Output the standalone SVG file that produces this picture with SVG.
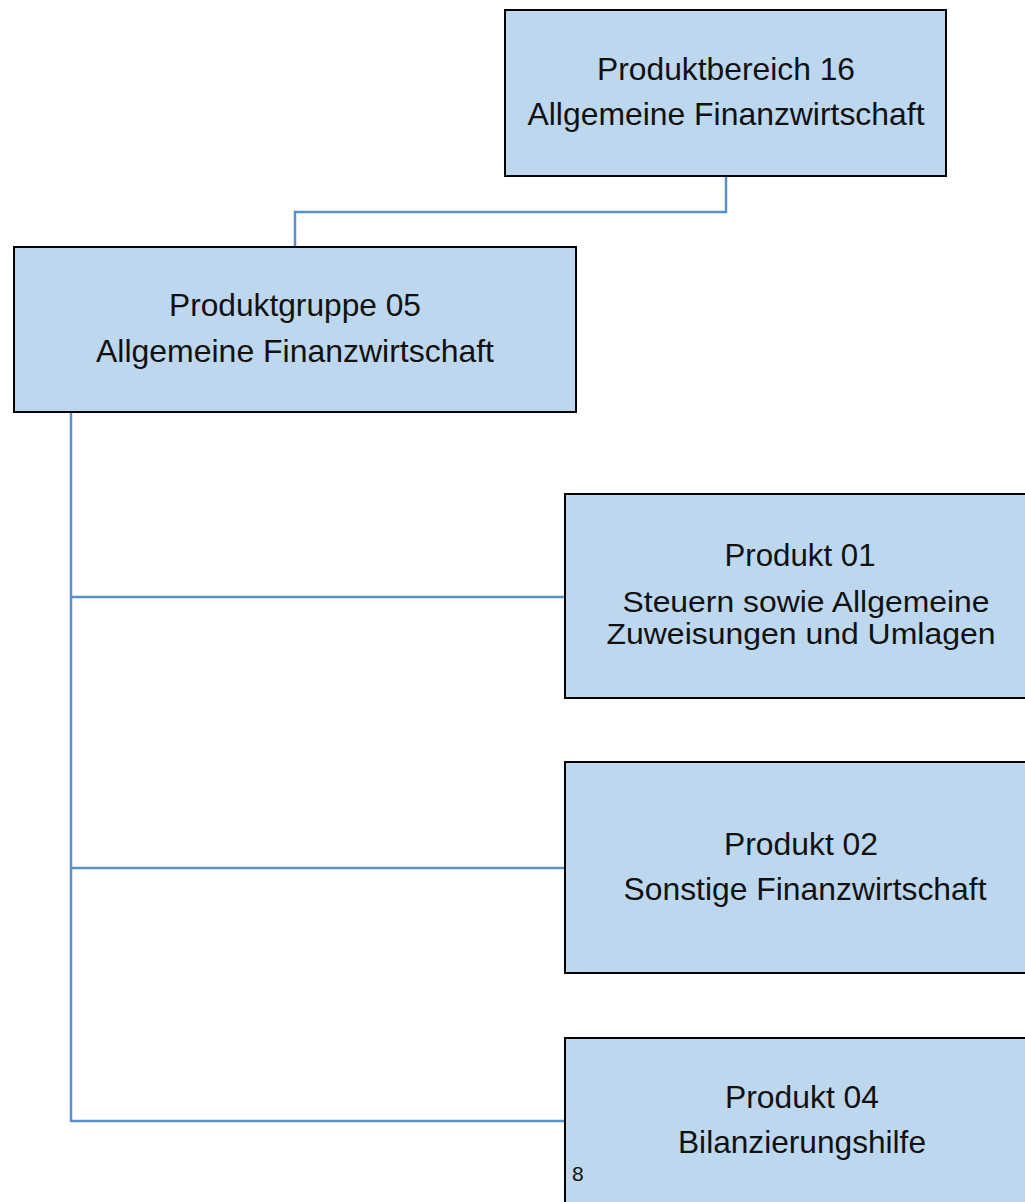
<svg xmlns="http://www.w3.org/2000/svg" width="1025" height="1202" viewBox="0 0 1025 1202">
<style>
.box{fill:#bdd7ee;stroke:#000;stroke-width:2}
.t{font-family:"Liberation Sans",Arial,sans-serif;font-size:32px;fill:#111;text-anchor:middle}
.s{font-size:29px}
.c{fill:none;stroke:#5b8fc7;stroke-width:2.5}
</style>
<rect width="1025" height="1202" fill="#fff"/>
<g id="connectors">
<polyline class="c" points="726,176 726,212 295,212 295,247"/>
<line class="c" x1="71" y1="412" x2="71" y2="1122"/>
<line class="c" x1="71" y1="597" x2="565" y2="597"/>
<line class="c" x1="71" y1="868" x2="565" y2="868"/>
<line class="c" x1="71" y1="1121" x2="565" y2="1121"/>
</g>
<g id="n1">
<rect class="box" x="505" y="10" width="441" height="166"/>
<text class="t" x="726" y="80" textLength="258" lengthAdjust="spacingAndGlyphs">Produktbereich 16</text>
<text class="t" x="726" y="125" textLength="397" lengthAdjust="spacingAndGlyphs">Allgemeine Finanzwirtschaft</text>
</g>
<g id="n2">
<rect class="box" x="14" y="247" width="562" height="165"/>
<text class="t" x="295" y="316" textLength="252" lengthAdjust="spacingAndGlyphs">Produktgruppe 05</text>
<text class="t" x="295" y="362" textLength="398" lengthAdjust="spacingAndGlyphs">Allgemeine Finanzwirtschaft</text>
</g>
<g id="n3">
<rect class="box" x="565" y="494" width="470" height="204"/>
<text class="t" x="800" y="566" textLength="151" lengthAdjust="spacingAndGlyphs">Produkt 01</text>
<text class="t s" x="806" y="612" textLength="367" lengthAdjust="spacingAndGlyphs">Steuern sowie Allgemeine</text>
<text class="t s" x="801" y="644" textLength="389" lengthAdjust="spacingAndGlyphs">Zuweisungen und Umlagen</text>
</g>
<g id="n4">
<rect class="box" x="565" y="762" width="470" height="211"/>
<text class="t" x="801" y="855" textLength="154" lengthAdjust="spacingAndGlyphs">Produkt 02</text>
<text class="t" x="805" y="900" textLength="363" lengthAdjust="spacingAndGlyphs">Sonstige Finanzwirtschaft</text>
</g>
<g id="n5">
<rect class="box" x="565" y="1038" width="470" height="180"/>
<text class="t" x="802" y="1108" textLength="154" lengthAdjust="spacingAndGlyphs">Produkt 04</text>
<text class="t" x="802" y="1153" textLength="248" lengthAdjust="spacingAndGlyphs">Bilanzierungshilfe</text>
<text x="572" y="1181" style="font-family:'Liberation Sans',Arial,sans-serif;font-size:21px;fill:#111">8</text>
</g>
</svg>
